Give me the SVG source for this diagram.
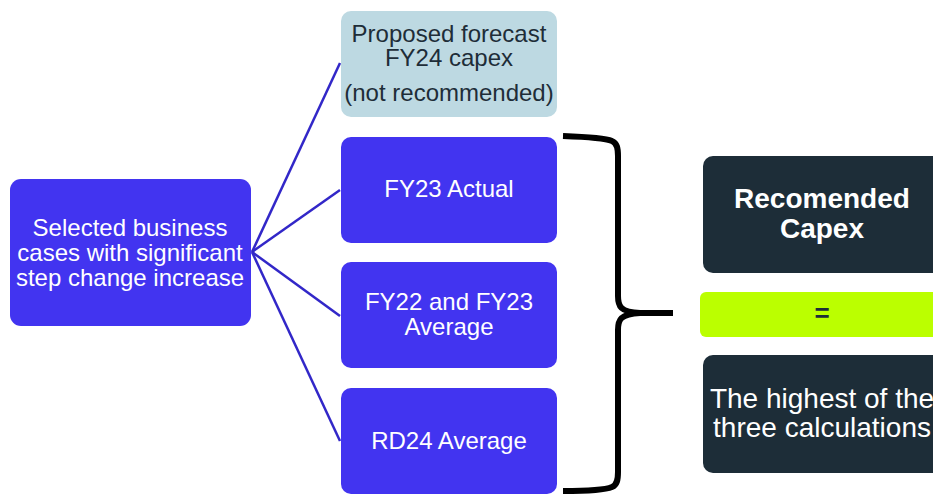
<svg xmlns="http://www.w3.org/2000/svg" width="933" height="494" viewBox="0 0 933 494">
<style>
text{font-family:"Liberation Sans",Arial,sans-serif;text-anchor:middle}
.w{fill:#ffffff;font-size:24px}
.d{fill:#1e2d38;font-size:24px}
.b{fill:#4234f0}
.k{fill:#1d2d38}
.c{stroke:#3227c8;stroke-width:2.5;fill:none}
</style>
<rect width="933" height="494" fill="#ffffff"/>
<g id="connectors">
<line class="c" x1="252" y1="252" x2="340" y2="63"/>
<line class="c" x1="252" y1="252" x2="340" y2="190"/>
<line class="c" x1="252" y1="252" x2="340" y2="316"/>
<line class="c" x1="252" y1="252" x2="340" y2="441"/>
<path d="M563,136 C590,137 605,138 612,141 C617,143 618,148 618,156 L618,296 C618,306 620,312 640,313 L673,313 M640,313 C620,314 618,320 618,330 L618,472 C618,480 617,485 612,487 C605,490 590,491 563,491" fill="none" stroke="#000" stroke-width="6"/>
</g>
<g id="source">
<rect x="10" y="179" width="241" height="147" rx="11" class="b"/>
<text class="w" x="130" y="236">Selected business</text>
<text class="w" x="130" y="261">cases with significant</text>
<text class="w" x="130" y="286">step change increase</text>
</g>
<g id="proposed">
<rect x="341" y="11" width="216" height="106" rx="10" fill="#bdd9e2"/>
<text class="d" x="449" y="42">Proposed forecast</text>
<text class="d" x="449" y="66">FY24 capex</text>
<text class="d" x="449" y="101">(not recommended)</text>
</g>
<g id="fy23">
<rect x="341" y="137" width="216" height="106" rx="10" class="b"/>
<text class="w" x="449" y="197">FY23 Actual</text>
</g>
<g id="fy22">
<rect x="341" y="262" width="216" height="106" rx="10" class="b"/>
<text class="w" x="449" y="310">FY22 and FY23</text>
<text class="w" x="449" y="335">Average</text>
</g>
<g id="rd24">
<rect x="341" y="388" width="216" height="106" rx="10" class="b"/>
<text class="w" x="449" y="449">RD24 Average</text>
</g>
<g id="recommended">
<rect x="703" y="156" width="245" height="117" rx="10" class="k"/>
<text x="822" y="208" fill="#fff" font-size="28" font-weight="bold">Recomended</text>
<text x="822" y="238" fill="#fff" font-size="28" font-weight="bold">Capex</text>
</g>
<g id="equals">
<rect x="700" y="292" width="250" height="45" rx="6" fill="#bbff00"/>
<text x="822" y="322" fill="#1d2d38" font-size="26" font-weight="bold">=</text>
</g>
<g id="highest">
<rect x="703" y="355" width="245" height="118" rx="10" class="k"/>
<text x="822" y="408" fill="#fff" font-size="28">The highest of the</text>
<text x="822" y="437" fill="#fff" font-size="28">three calculations</text>
</g>
</svg>
